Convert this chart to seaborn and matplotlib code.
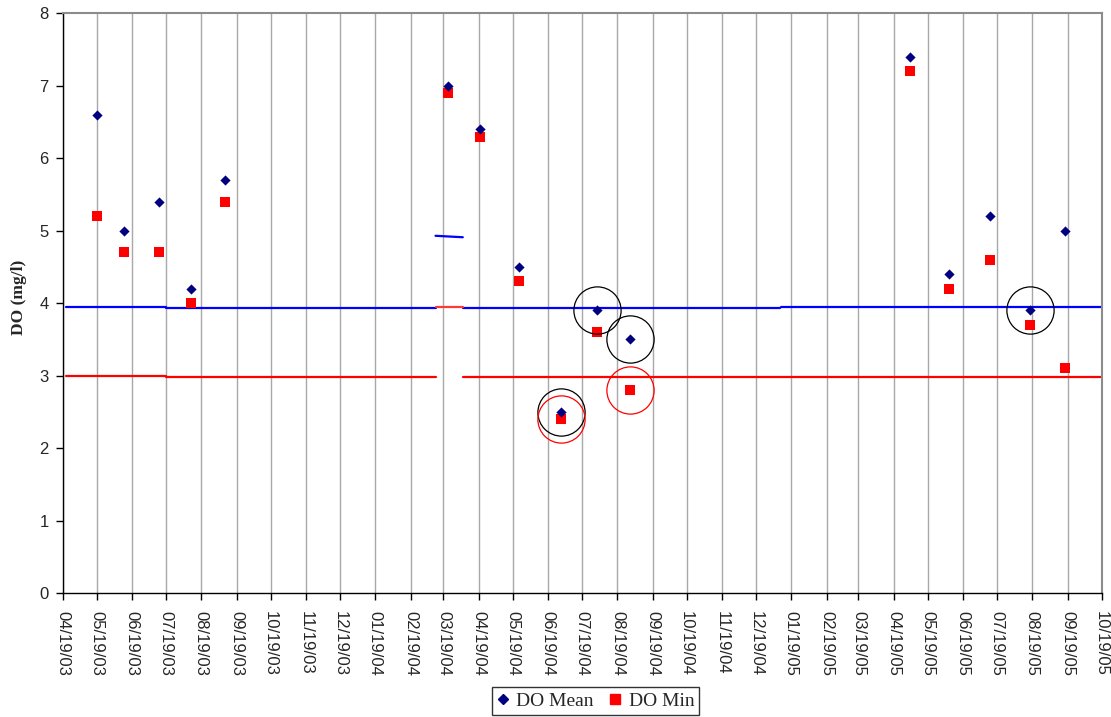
import numpy as np
import pandas as pd
import matplotlib
matplotlib.use("Agg")
import matplotlib.pyplot as plt
import matplotlib.dates as mdates
from matplotlib.lines import Line2D
import seaborn as sns

# ---------------- data ----------------
sample_dates = ["2003-05-19", "2003-06-12", "2003-07-13", "2003-08-10", "2003-09-09",
                "2004-03-23", "2004-04-20", "2004-05-24", "2004-06-30", "2004-08-01",
                "2004-08-30", "2005-05-03", "2005-06-07", "2005-07-13", "2005-08-17",
                "2005-09-17"]
do_mean = [6.6, 5.0, 5.4, 4.2, 5.7, 7.0, 6.4, 4.5, 2.5, 3.9, 3.5, 7.4, 4.4, 5.2, 3.9, 5.0]
do_min = [5.2, 4.7, 4.7, 4.0, 5.4, 6.9, 6.3, 4.3, 2.4, 3.6, 2.8, 7.2, 4.2, 4.6, 3.7, 3.1]

# circled (flagged) samples
mean_flagged = ["2004-06-30", "2004-08-01", "2004-08-30", "2005-08-17"]
min_flagged = ["2004-06-30", "2004-08-30"]

# reference-level line segments
blue_start = ["2003-04-22", "2003-07-19", "2004-04-05", "2005-01-10"]
blue_end = ["2003-07-19", "2004-03-12", "2005-01-09", "2005-10-19"]
blue_val = [3.943, 3.930, 3.937, 3.943]

red_start = ["2003-04-22", "2003-07-19", "2004-04-05"]
red_end = ["2003-07-19", "2004-03-12", "2005-10-19"]
red_val = [2.99, 2.98, 2.98]

# short segments in the gap period
gap_start = "2004-03-12"
gap_end = "2004-04-05"
gap_red_on_blue = [3.943, 3.943]
gap_blue_high = [4.93, 4.91]

x_start = "2003-04-19"
x_end = "2005-10-19"
y_ticks = [0, 1, 2, 3, 4, 5, 6, 7, 8]

# ---------------- frame ----------------
df = pd.DataFrame({"date": pd.to_datetime(sample_dates), "mean": do_mean, "min": do_min})

sns.set_style("white")
plt.rcParams["font.family"] = ["Liberation Sans", "DejaVu Sans"]

fig = plt.figure(figsize=(11.11, 7.17), dpi=100)
ax = fig.add_axes([0.0564, 0.1729, 0.9352, 0.8085])

tick_dates = pd.date_range(x_start, x_end, freq=pd.DateOffset(months=1))
ax.set_xlim(pd.Timestamp(x_start), pd.Timestamp(x_end))
ax.set_ylim(0, 8)
ax.set_xticks(tick_dates)
ax.xaxis.set_major_formatter(mdates.DateFormatter("%m/%d/%y"))
ax.set_yticks(y_ticks)
ax.xaxis.grid(True, color="#A8A8A8", lw=1.0)
ax.yaxis.grid(False)
ax.set_axisbelow(True)

# reference lines
for s, e, v in zip(blue_start, blue_end, blue_val):
    ax.plot([pd.Timestamp(s), pd.Timestamp(e)], [v, v], color="#0000FF", lw=1.6, zorder=2)
for s, e, v in zip(red_start, red_end, red_val):
    ax.plot([pd.Timestamp(s), pd.Timestamp(e)], [v, v], color="#FF0000", lw=1.6, zorder=2)
ax.plot([pd.Timestamp(gap_start), pd.Timestamp(gap_end)], gap_red_on_blue,
        color="#FF3838", lw=1.6, zorder=2)
ax.plot([pd.Timestamp(gap_start), pd.Timestamp(gap_end)], gap_blue_high,
        color="#0000FF", lw=1.6, zorder=2)

# points
sns.scatterplot(data=df, x="date", y="min", marker="s", s=44, color="#FF0000",
                linewidth=0, ax=ax, zorder=4)
sns.scatterplot(data=df, x="date", y="mean", marker="D", s=27, color="#000080",
                linewidth=0, ax=ax, zorder=5)

# circles around flagged samples
mf = df[df["date"].isin(pd.to_datetime(mean_flagged))]
nf = df[df["date"].isin(pd.to_datetime(min_flagged))]
ax.plot(mf["date"], mf["mean"], ls="none", marker="o", ms=34, mfc="none",
        mec="black", mew=0.9, zorder=6)
ax.plot(nf["date"], nf["min"], ls="none", marker="o", ms=34, mfc="none",
        mec="#FF0000", mew=0.9, zorder=6)

# axes styling
for side in ["left", "bottom"]:
    ax.spines[side].set_color("black")
    ax.spines[side].set_linewidth(1.0)
for side in ["top", "right"]:
    ax.spines[side].set_color("#8C8C8C")
    ax.spines[side].set_linewidth(1.5)

ax.tick_params(axis="both", direction="out", length=5, width=1, color="black",
               labelsize=12, bottom=True, left=True)
ax.tick_params(axis="x", pad=8)
ax.tick_params(axis="y", pad=5)
for lab in ax.get_xticklabels():
    lab.set_rotation(270)
    lab.set_ha("center")
    lab.set_va("top")

ax.set_xlabel("")
ax.set_ylabel("DO (mg/l)", fontsize=12.5, fontweight="bold",
              family=["Liberation Serif", "DejaVu Serif"])
ax.yaxis.set_label_coords(-0.034, 0.51)

handles = [
    Line2D([], [], ls="none", marker="D", ms=5.2, color="#000080", mec="#000080"),
    Line2D([], [], ls="none", marker="s", ms=6.6, color="#FF0000", mec="#FF0000"),
]
leg = fig.legend(handles, ["DO Mean", "DO Min"], loc="center",
                 bbox_to_anchor=(0.536, 0.0223), ncol=2, frameon=True,
                 fancybox=False, edgecolor="black", handlelength=0.6,
                 handletextpad=0.4, columnspacing=0.8, borderpad=0.25,
                 prop={"family": ["Liberation Serif", "DejaVu Serif"], "size": 14})
leg.get_frame().set_linewidth(1.0)

fig.savefig("out.png", dpi=100)
